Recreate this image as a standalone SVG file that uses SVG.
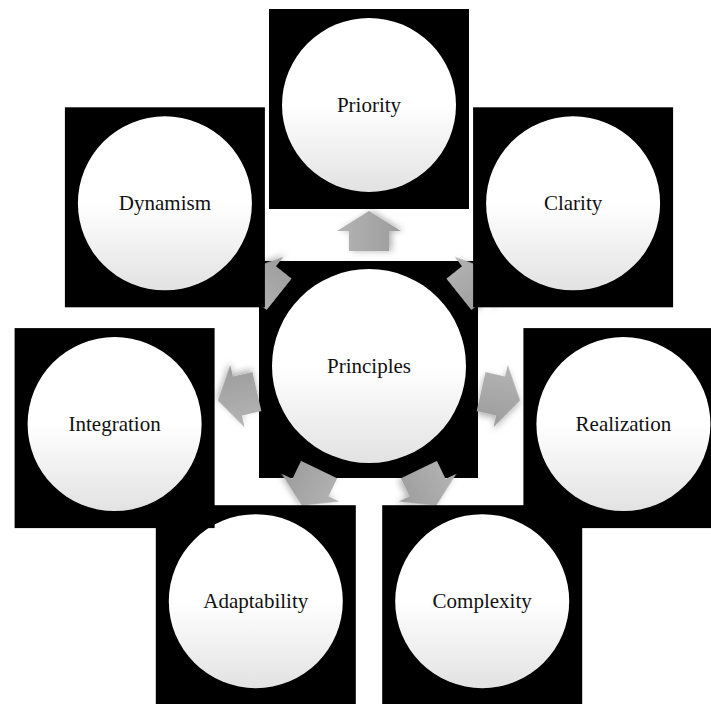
<svg xmlns="http://www.w3.org/2000/svg" width="711" height="704" viewBox="0 0 711 704">
  <defs>
    <style>
      .box { fill: #000; }
      .disc { fill: url(#discFill); }
      .label { font-family: "Liberation Serif", "Times New Roman", serif; font-size: 21px; fill: #111; text-anchor: middle; }
      .arrow { fill: url(#arrowFill); filter: url(#arrowShadow); }
    </style>
    <linearGradient id="discFill" x1="0" y1="0" x2="0" y2="1">
      <stop offset="0" stop-color="#ffffff"/>
      <stop offset="0.5" stop-color="#ffffff"/>
      <stop offset="1" stop-color="#e2e2e2"/>
    </linearGradient>
    <linearGradient id="arrowFill" x1="0" y1="0" x2="0" y2="1">
      <stop offset="0" stop-color="#b4b4b4"/>
      <stop offset="1" stop-color="#9c9c9c"/>
    </linearGradient>
    <filter id="arrowShadow" x="-50%" y="-50%" width="200%" height="200%">
      <feDropShadow dx="0" dy="3" stdDeviation="3" flood-color="#000" flood-opacity="0.3"/>
    </filter>
    <!-- block arrow pointing along +x, tail 115px and tip 155px from the hub -->
    <path id="spoke" d="M115,-20 L135,-20 L135,-32 L155,0 L135,32 L135,20 L115,20 Z"/>
  </defs>

  <rect width="711" height="704" fill="#fff"/>

  <!-- hub -->
  <g id="node-principles">
    <rect class="box" x="259" y="261" width="219" height="217"/>
    <circle class="disc" cx="369" cy="366" r="97"/>
    <text class="label" x="369" y="373">Principles</text>
  </g>

  <!-- spokes from the hub to each outer node -->
  <g id="connectors">
    <use class="arrow" href="#spoke" transform="translate(369 366) rotate(-90)"/>
    <use class="arrow" href="#spoke" transform="translate(369 366) rotate(-38.57)"/>
    <use class="arrow" href="#spoke" transform="translate(369 366) rotate(12.86)"/>
    <use class="arrow" href="#spoke" transform="translate(369 366) rotate(64.29)"/>
    <use class="arrow" href="#spoke" transform="translate(369 366) rotate(115.71)"/>
    <use class="arrow" href="#spoke" transform="translate(369 366) rotate(167.14)"/>
    <use class="arrow" href="#spoke" transform="translate(369 366) rotate(218.57)"/>
  </g>

  <!-- outer nodes, clockwise from the top -->
  <g id="node-priority">
    <rect class="box" x="269" y="9" width="200" height="200"/>
    <circle class="disc" cx="369" cy="105" r="87"/>
    <text class="label" x="369" y="112">Priority</text>
  </g>
  <g id="node-clarity">
    <rect class="box" x="473.1" y="107.3" width="200" height="200"/>
    <circle class="disc" cx="573.1" cy="203.3" r="87"/>
    <text class="label" x="573.1" y="210.3">Clarity</text>
  </g>
  <g id="node-realization">
    <rect class="box" x="523.4" y="328.1" width="200" height="200"/>
    <circle class="disc" cx="623.4" cy="424.1" r="87"/>
    <text class="label" x="623.4" y="431.1">Realization</text>
  </g>
  <g id="node-complexity">
    <rect class="box" x="382.2" y="505.2" width="200" height="200"/>
    <circle class="disc" cx="482.2" cy="601.2" r="87"/>
    <text class="label" x="482.2" y="608.2">Complexity</text>
  </g>
  <g id="node-adaptability">
    <rect class="box" x="155.8" y="505.2" width="200" height="200"/>
    <circle class="disc" cx="255.8" cy="601.2" r="87"/>
    <text class="label" x="255.8" y="608.2">Adaptability</text>
  </g>
  <g id="node-integration">
    <rect class="box" x="14.6" y="328.1" width="200" height="200"/>
    <circle class="disc" cx="114.6" cy="424.1" r="87"/>
    <text class="label" x="114.6" y="431.1">Integration</text>
  </g>
  <g id="node-dynamism">
    <rect class="box" x="64.9" y="107.3" width="200" height="200"/>
    <circle class="disc" cx="164.9" cy="203.3" r="87"/>
    <text class="label" x="164.9" y="210.3">Dynamism</text>
  </g>
</svg>
